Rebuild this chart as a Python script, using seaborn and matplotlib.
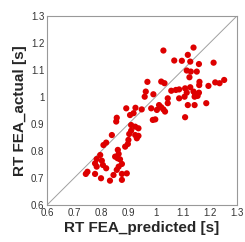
import numpy as np
import pandas as pd
import seaborn as sns
import matplotlib.pyplot as plt

# RT FEA: predicted vs actual [s]
predicted = [1.029, 1.140, 1.119, 1.069, 1.097, 1.128, 1.160, 1.214, 1.115, 1.130,
             1.152, 1.125, 1.021, 1.033, 0.970, 1.162, 1.161, 1.220, 1.236, 1.253,
             1.195, 0.964, 0.960, 0.992, 1.058, 1.075, 1.087, 1.109, 1.128, 1.140,
             1.115, 1.146, 1.160, 1.107, 1.087, 1.144, 1.155, 1.045, 0.984, 0.949,
             0.892, 0.926, 1.013, 1.021, 1.029, 1.005, 1.045, 1.035, 1.119, 1.144,
             1.187, 1.109, 0.990, 0.999, 0.906, 0.919, 0.857, 0.855, 0.910, 0.925,
             0.937, 0.910, 0.925, 0.931, 0.937, 0.900, 0.903, 0.839, 0.818, 0.808,
             0.898, 0.888, 0.861, 0.864, 0.860, 0.869, 0.851, 0.796, 0.783, 0.802,
             0.777, 0.806, 0.818, 0.783, 0.876, 0.864, 0.749, 0.743, 0.777, 0.799,
             0.832, 0.845, 0.876, 0.894, 0.876, 0.857]
actual = [1.172, 1.183, 1.156, 1.135, 1.134, 1.131, 1.122, 1.127, 1.098, 1.094,
          1.094, 1.073, 1.057, 1.051, 1.056, 1.056, 1.044, 1.054, 1.051, 1.063,
          1.041, 1.020, 1.001, 1.010, 1.023, 1.026, 1.028, 1.032, 1.036, 1.020,
          1.016, 1.011, 1.016, 1.001, 0.995, 1.001, 1.004, 0.995, 0.958, 0.954,
          0.958, 0.960, 0.970, 0.962, 0.954, 0.952, 0.977, 0.946, 0.970, 0.970,
          0.977, 0.925, 0.915, 0.917, 0.933, 0.940, 0.923, 0.909, 0.896, 0.890,
          0.884, 0.875, 0.859, 0.847, 0.856, 0.841, 0.863, 0.859, 0.831, 0.822,
          0.826, 0.816, 0.804, 0.789, 0.773, 0.769, 0.779, 0.785, 0.770, 0.764,
          0.754, 0.748, 0.736, 0.742, 0.752, 0.742, 0.723, 0.715, 0.715, 0.699,
          0.690, 0.711, 0.715, 0.717, 0.693, 0.730]
ticks = [0.6, 0.7, 0.8, 0.9, 1.0, 1.1, 1.2, 1.3]
tick_labels = ["0.6", "0.7", "0.8", "0.9", "1", "1.1", "1.2", "1.3"]

df = pd.DataFrame({"pred": predicted, "act": actual})

sns.set_theme(style="white")
plt.rcParams["font.family"] = ["Liberation Sans", "DejaVu Sans"]

fig = plt.figure(figsize=(2.45, 2.42), dpi=100)
ax = fig.add_axes([0.192, 0.153, 0.775, 0.781])

# reference line y = x
ax.plot([0.6, 1.3], [0.6, 1.3], color="#a0a0a0", lw=0.7, zorder=1)

sns.scatterplot(data=df, x="pred", y="act", ax=ax, color="#dd0000",
                s=20, edgecolor="none", zorder=2)

ax.set_xlim(0.6, 1.3)
ax.set_ylim(0.6, 1.3)
ax.set_xticks(ticks)
ax.set_xticklabels(tick_labels)
ax.set_yticks(ticks)
ax.set_yticklabels(tick_labels)
ax.tick_params(length=0, labelsize=7, labelcolor="#333333")
ax.tick_params(axis="x", pad=2.5)
ax.tick_params(axis="y", pad=2)

for sp in ax.spines.values():
    sp.set_color("#999999")
    sp.set_linewidth(0.8)

ax.set_xlabel("RT FEA_predicted [s]", fontsize=11, fontweight="bold", labelpad=2)
ax.set_ylabel("RT FEA_actual [s]", fontsize=11, fontweight="bold", labelpad=3)

plt.savefig("out.png", dpi=100)
